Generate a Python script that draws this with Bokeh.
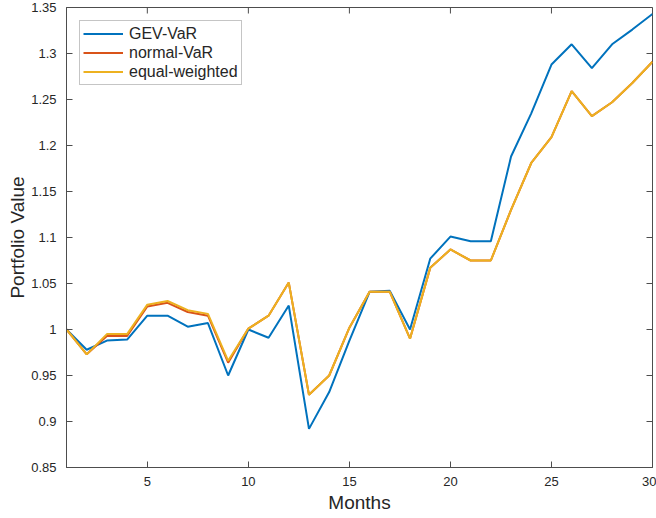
import math
from bokeh.plotting import figure
from bokeh.models import FixedTicker, Range1d, Legend, LegendItem
from bokeh.embed import file_html
from bokeh.resources import INLINE

# Monthly portfolio values for the three allocation strategies
months = list(range(1, 31))
gev_var = [1.000, 0.978, 0.988, 0.989, 1.015, 1.015, 1.003, 1.007, 0.950, 1.000,
           0.991, 1.026, 0.892, 0.932, 0.988, 1.041, 1.042, 1.000, 1.077, 1.101,
           1.096, 1.096, 1.188, 1.235, 1.288, 1.310, 1.284, 1.310, 1.326, 1.343]
normal_var = [1.000, 0.973, 0.993, 0.993, 1.025, 1.029, 1.019, 1.015, 0.964, 1.001,
              1.015, 1.051, 0.929, 0.950, 1.002, 1.041, 1.041, 0.990, 1.067, 1.087,
              1.075, 1.075, 1.130, 1.181, 1.209, 1.259, 1.232, 1.247, 1.268, 1.291]
equal_weighted = [1.000, 0.973, 0.995, 0.995, 1.027, 1.031, 1.021, 1.017, 0.966, 1.001,
                  1.015, 1.051, 0.929, 0.950, 1.002, 1.041, 1.041, 0.990, 1.067, 1.087,
                  1.075, 1.075, 1.130, 1.181, 1.209, 1.259, 1.232, 1.247, 1.268, 1.291]

x_ticks = [5, 10, 15, 20, 25, 30]
y_ticks = [0.85, 0.9, 0.95, 1.0, 1.05, 1.1, 1.15, 1.2, 1.25, 1.3, 1.35]
y_tick_labels = ["0.85", "0.9", "0.95", "1", "1.05", "1.1", "1.15", "1.2", "1.25", "1.3", "1.35"]

X_MIN, X_MAX = 1, 30
Y_MIN, Y_MAX = 0.85, 1.35

FONT = "Liberation Sans"
AXIS_COLOR = "#4d4d4d"
TEXT_COLOR = "#262626"
TICK_LEN = 6

p = figure(width=656, height=518, output_backend="svg", toolbar_location=None,
           x_range=Range1d(X_MIN, X_MAX), y_range=Range1d(Y_MIN, Y_MAX),
           min_border_left=66, min_border_right=4, min_border_top=7, min_border_bottom=51)
p.background_fill_color = "white"
p.border_fill_color = "white"
p.grid.visible = False
p.outline_line_color = AXIS_COLOR
p.outline_line_width = 1

def style_axis(ax, ticks):
    ax.ticker = FixedTicker(ticks=ticks)
    ax.axis_line_color = AXIS_COLOR
    ax.major_tick_line_color = AXIS_COLOR
    ax.minor_tick_line_color = None
    ax.major_tick_in = TICK_LEN
    ax.major_tick_out = 0
    ax.major_label_text_font = FONT
    ax.major_label_text_font_size = "13px"
    ax.major_label_text_color = TEXT_COLOR
    ax.axis_label_text_font = FONT
    ax.axis_label_text_font_size = "19px"
    ax.axis_label_text_font_style = "normal"
    ax.axis_label_text_color = TEXT_COLOR

xb = p.xaxis[0]
style_axis(xb, x_ticks)
xb.major_label_standoff = 9
xb.axis_label = "Months"
xb.axis_label_standoff = 3

yl = p.yaxis[0]
style_axis(yl, y_ticks)
yl.major_label_overrides = {t: s for t, s in zip(y_ticks, y_tick_labels)}
yl.major_label_standoff = 10
yl.axis_label = "Portfolio Value"
yl.axis_label_standoff = 0

# inward tick marks along the top and right edges of the box
p.ray(x=x_ticks, y=[Y_MAX] * len(x_ticks), length=TICK_LEN, length_units="screen",
      angle=-math.pi / 2, line_color=AXIS_COLOR, line_width=1)
p.ray(x=[X_MAX] * len(y_ticks), y=y_ticks, length=TICK_LEN, length_units="screen",
      angle=math.pi, line_color=AXIS_COLOR, line_width=1)

r_gev = p.line(months, gev_var, line_color="#0072BD", line_width=2)
r_norm = p.line(months, normal_var, line_color="#D95319", line_width=2)
r_eq = p.line(months, equal_weighted, line_color="#EDB120", line_width=2)

legend = Legend(items=[
    LegendItem(label="GEV-VaR", renderers=[r_gev]),
    LegendItem(label="normal-VaR", renderers=[r_norm]),
    LegendItem(label="equal-weighted", renderers=[r_eq]),
], location="top_left")
legend.margin = 13
legend.padding = 3
legend.spacing = 0
legend.glyph_width = 40
legend.glyph_height = 19
legend.label_height = 19
legend.label_standoff = 6
legend.label_text_font = FONT
legend.label_text_font_size = "16px"
legend.label_text_color = TEXT_COLOR
legend.border_line_color = "#8c8c8c"
legend.border_line_width = 1
legend.background_fill_color = "white"
legend.background_fill_alpha = 1
p.add_layout(legend)

open("out.html", "w").write(file_html(p, INLINE))
